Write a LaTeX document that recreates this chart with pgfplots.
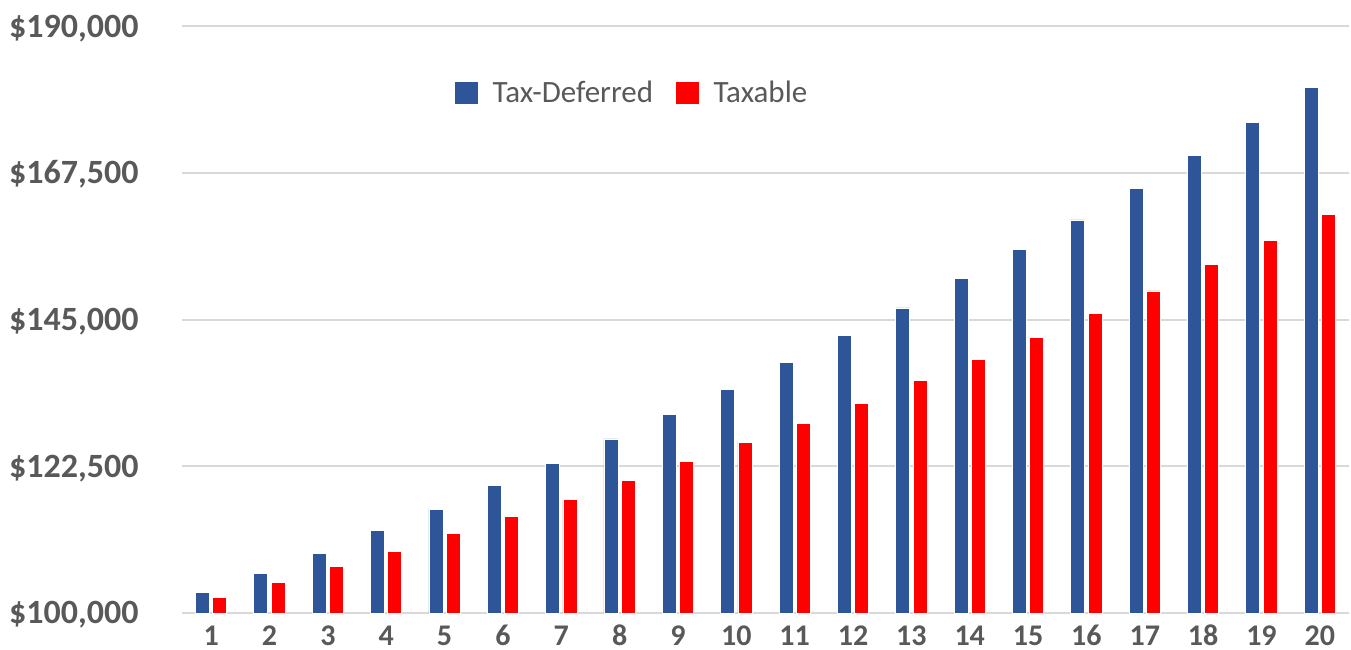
\documentclass[border=0pt]{standalone}
\usepackage{pgfplots}
\pgfplotsset{compat=1.18}
\usepackage{fontspec}
\setmainfont{Carlito}
\definecolor{tdblue}{HTML}{2E5597}
\definecolor{txred}{HTML}{FF0000}
\definecolor{lblgray}{HTML}{595959}
\definecolor{gridgray}{HTML}{D9D9D9}
\begin{document}
\begin{tikzpicture}
\begin{axis}[
  scale only axis,
  width=583.5pt, height=293.35pt,
  xmin=0.5, xmax=20.5,
  ymin=100000, ymax=190000,
  ybar=1.65pt, bar width=7pt,
  axis line style={draw=none},
  major tick length=0pt,
  ymajorgrids,
  grid style={gridgray, line width=1pt},
  xtick={1,...,20},
  ytick={100000,122500,145000,167500,190000},
  yticklabels={{\$100,000},{\$122,500},{\$145,000},{\$167,500},{\$190,000}},
  scaled y ticks=false,
  /pgf/number format/assume math mode=true,
  xticklabel style={font=\fontsize{15}{18}\selectfont\bfseries, text=lblgray, anchor=base, inner sep=0pt, yshift=-16pt},
  yticklabel style={font=\fontsize{17}{20}\selectfont\bfseries, text=lblgray, anchor=base east, inner sep=0pt, xshift=-21.5pt, yshift=-5.4pt},
  legend image code/.code={\path[#1,draw=none] (0pt,-5.6pt) rectangle (11.5pt,5.6pt); \path (16.5pt,0pt);},
  legend columns=2,
  legend style={draw=none, fill=none, at={(0.3867,0.886)}, anchor=center,
    font=\fontsize{15.5}{18}\selectfont, text=lblgray,
    /tikz/every even column/.append style={column sep=9.5pt}},
]
\addplot[fill=tdblue, draw=white, line width=0.4pt] coordinates {
(1,103200) (2,106100) (3,109200) (4,112700) (5,115900)
(6,119600) (7,123000) (8,126700) (9,130400) (10,134300)
(11,138400) (12,142600) (13,146800) (14,151300) (15,155800)
(16,160300) (17,165100) (18,170200) (19,175200) (20,180600)};
\addplot[fill=txred, draw=white, line width=0.4pt] coordinates {
(1,102400) (2,104700) (3,107100) (4,109500) (5,112200)
(6,114800) (7,117400) (8,120400) (9,123300) (10,126200)
(11,129100) (12,132200) (13,135700) (14,138900) (15,142300)
(16,146000) (17,149400) (18,153400) (19,157200) (20,161200)};
\legend{Tax-Deferred, Taxable}
\end{axis}
\pgfresetboundingbox
\path ([shift={(-91pt,-18pt)}]current axis.south west) rectangle ([shift={(1pt,13.15pt)}]current axis.north east);
\end{tikzpicture}
\end{document}
